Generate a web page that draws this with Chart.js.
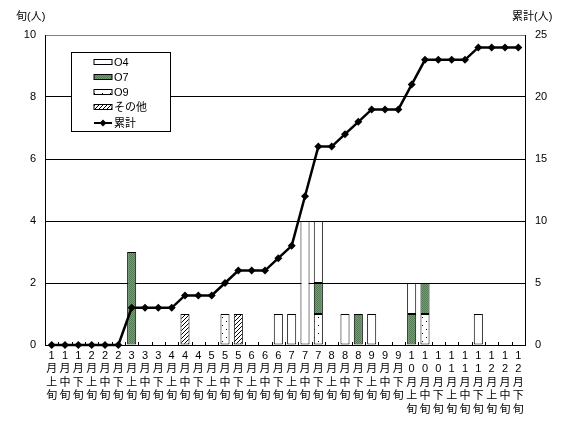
<!DOCTYPE html>
<html><head><meta charset="utf-8">
<script src="https://cdn.jsdelivr.net/npm/chart.js@4"></script>
<style>html,body{margin:0;padding:0;background:#fff}#wrap{width:584px;height:425px;position:relative}</style>
</head><body><div id="wrap"><canvas id="c" width="584" height="425"></canvas></div>
<script>
const months = ['1','2','3','4','5','6','7','8','9','10','11','12'];
const periods = ['上','中','下'];
const categories = months.flatMap(m => periods.map(p => [...m.split(''), '月', p, '旬']));
const leftTitle = '旬(人)';
const rightTitle = '累計(人)';
const seriesNames = ['O4', 'O7', 'O9', 'その他', '累計'];
const valuesO4 =    [0,0,0,0,0,0, 0,0,0,0,0,0, 0,0,0,0,0,1, 1,4,2,0,1,0, 1,0,0,1,0,0, 0,0,1,0,0,0];
const valuesO7 =    [0,0,0,0,0,0, 3,0,0,0,0,0, 0,0,0,0,0,0, 0,0,1,0,0,1, 0,0,0,1,1,0, 0,0,0,0,0,0];
const valuesO9 =    [0,0,0,0,0,0, 0,0,0,0,0,0, 0,1,0,0,0,0, 0,0,1,0,0,0, 0,0,0,0,1,0, 0,0,0,0,0,0];
const valuesOther = [0,0,0,0,0,0, 0,0,0,0,1,0, 0,0,1,0,0,0, 0,0,0,0,0,0, 0,0,0,0,0,0, 0,0,0,0,0,0];
const valuesCumulative = [0,0,0,0,0,0, 3,3,3,3,4,4, 4,5,6,6,6,7, 8,12,16,16,17,18, 19,19,19,21,23,23, 23,23,24,24,24,24];
const leftTicks = {min:0, max:10, step:2};
const rightTicks = {min:0, max:25, step:5};

const FONT = '"Liberation Sans", "Noto Sans CJK JP", sans-serif';
const canvas = document.getElementById('c');
const mainCtx = canvas.getContext('2d');
function makePattern(w, h, draw) {
  const c = document.createElement('canvas'); c.width = w; c.height = h;
  const g = c.getContext('2d'); draw(g);
  return mainCtx.createPattern(c, 'repeat');
}
const greenPat = makePattern(2, 2, g => {
  g.fillStyle = '#8e8a8e'; g.fillRect(0, 0, 2, 2);
  g.fillStyle = '#557d55'; g.fillRect(0, 0, 1, 1); g.fillRect(1, 1, 1, 1);
});
const hatchPat = makePattern(4, 4, g => {
  g.fillStyle = '#fff'; g.fillRect(0, 0, 4, 4);
  g.fillStyle = '#000'; for (let i = 0; i < 4; i++) g.fillRect(i, 3 - i, 1, 1);
});
const dotPat = makePattern(8, 8, g => {
  g.fillStyle = '#fff'; g.fillRect(0, 0, 8, 8);
  g.fillStyle = '#000'; g.fillRect(2, 1, 1, 1); g.fillRect(6, 5, 1, 1);
});
const nz = a => a.map(v => v ? v : null);

const barCommon = {type:'bar', borderColor:'#000', borderWidth:1, borderSkipped:false,
  barPercentage:0.68, categoryPercentage:1, yAxisID:'y', stack:'s'};

const decor = {
  id: 'decor',
  afterDraw(chart) {
    const ctx = chart.ctx, ca = chart.chartArea, xs = chart.scales.x;
    ctx.save();
    // inward tick marks at category boundaries
    const step = xs.getPixelForValue(1) - xs.getPixelForValue(0);
    ctx.strokeStyle = '#000'; ctx.lineWidth = 1;
    for (let i = 1; i < categories.length; i++) {
      const x = Math.round(xs.getPixelForValue(i) - step / 2) + 0.5;
      ctx.beginPath(); ctx.moveTo(x, ca.bottom); ctx.lineTo(x, ca.bottom - 3); ctx.stroke();
    }
    // axis titles
    ctx.fillStyle = '#000'; ctx.font = '11px ' + FONT; ctx.textBaseline = 'middle';
    ctx.textAlign = 'left'; ctx.fillText(leftTitle, 16, 17);
    ctx.fillText(rightTitle, 512, 17);
    // legend
    const bx = Math.round(ca.left) + 26.5, by = Math.round(ca.top) + 17.5, bw = 99, bh = 79;
    ctx.fillStyle = '#fff'; ctx.fillRect(bx, by, bw, bh);
    ctx.strokeStyle = '#000'; ctx.strokeRect(bx, by, bw, bh);
    chart.data.datasets.forEach((ds, i) => {
      const y = Math.round(by + 9 + i * 15.3);
      const sx = bx + 22.5;
      if (ds.type === 'bar') {
        ctx.fillStyle = ds.backgroundColor; ctx.fillRect(sx, y - 2.5, 18, 5);
        ctx.strokeStyle = '#000'; ctx.strokeRect(sx, y - 2.5, 18, 5);
      } else {
        ctx.strokeStyle = '#000'; ctx.lineWidth = 2;
        ctx.beginPath(); ctx.moveTo(sx, y); ctx.lineTo(sx + 18, y); ctx.stroke();
        ctx.fillStyle = '#000'; ctx.beginPath();
        const cx = sx + 9, r = 3.5;
        ctx.moveTo(cx, y - r); ctx.lineTo(cx + r, y); ctx.lineTo(cx, y + r); ctx.lineTo(cx - r, y); ctx.closePath(); ctx.fill();
        ctx.lineWidth = 1;
      }
      ctx.fillStyle = '#000'; ctx.textAlign = 'left'; ctx.textBaseline = 'middle';
      ctx.fillText(ds.label, sx + 20, y + 0.5);
    });
    ctx.restore();
  }
};

new Chart(canvas, {
  data: {
    labels: categories,
    datasets: [
      {...barCommon, label: seriesNames[0], data: nz(valuesO4), backgroundColor: '#fff', order: 3},
      {...barCommon, label: seriesNames[1], data: nz(valuesO7), backgroundColor: greenPat, order: 2},
      {...barCommon, label: seriesNames[2], data: nz(valuesO9), backgroundColor: dotPat, order: 1},
      {...barCommon, label: seriesNames[3], data: nz(valuesOther), backgroundColor: hatchPat, order: 4},
      {type:'line', label: seriesNames[4], data: valuesCumulative, yAxisID:'y1', order: 0,
       borderColor:'#000', borderWidth:2.5, tension:0, clip:false,
       pointStyle:'rectRot', pointRadius:4, pointBackgroundColor:'#000', pointBorderColor:'#000', pointBorderWidth:0}
    ]
  },
  options: {
    responsive: false, animation: false,
    layout: {padding: {top: 35, left: 0, right: 0, bottom: 0}},
    plugins: {legend: {display: false}, tooltip: {enabled: false}},
    scales: {
      x: {stacked: true, offset: true,
          grid: {drawOnChartArea: false, drawTicks: false},
          border: {color: '#000', width: 1},
          ticks: {autoSkip: false, maxRotation: 0, minRotation: 0, padding: 4, color: '#000',
                  font: {family: FONT, size: 11, lineHeight: 1.23}},
          afterFit: s => { s.height = 80; }},
      y: {position: 'left', stacked: true, min: leftTicks.min, max: leftTicks.max,
          grid: {color: c => c.tick && c.tick.value === leftTicks.max ? '#808080' : '#000', drawTicks: false},
          border: {color: '#000', width: 1},
          ticks: {stepSize: leftTicks.step, padding: 9, color: '#000', font: {family: FONT, size: 11}},
          afterFit: s => { s.width = 45; }},
      y1: {position: 'right', min: rightTicks.min, max: rightTicks.max,
          grid: {drawOnChartArea: false, drawTicks: false},
          border: {color: '#000', width: 1},
          ticks: {stepSize: rightTicks.step, padding: 10, color: '#000', font: {family: FONT, size: 11}},
          afterFit: s => { s.width = 59; }}
    }
  },
  plugins: [decor]
});
</script></body></html>
